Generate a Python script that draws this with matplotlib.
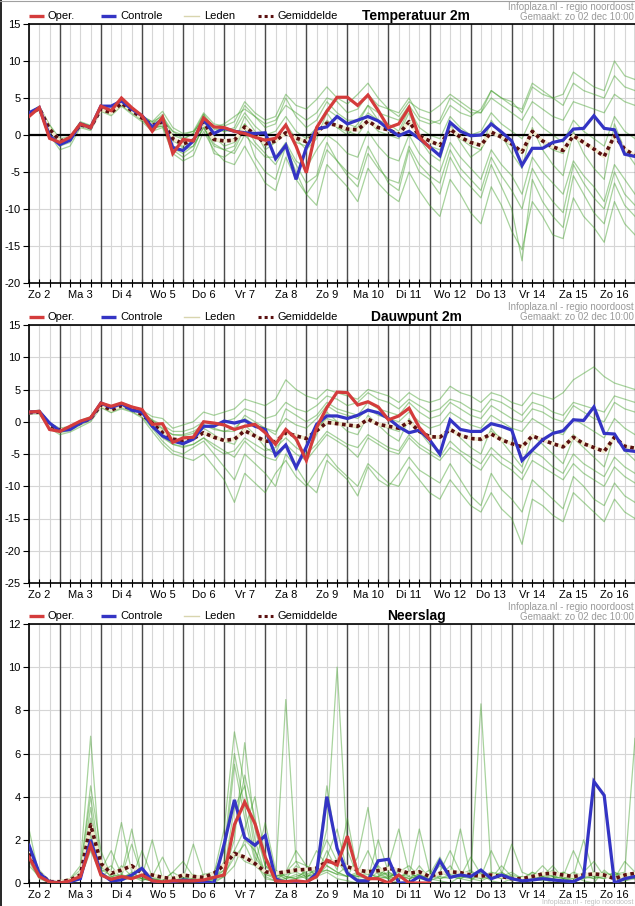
import numpy as np
import matplotlib
matplotlib.use('Agg')
import matplotlib.pyplot as plt
from matplotlib.lines import Line2D

plt.rcParams['font.family'] = ['Liberation Sans', 'DejaVu Sans']

W, H = 635, 906

# forecast steps, every 6 hours from Zo 2 06:00
STEP_HOURS = list(range(6, 366, 6))
DAY_LABELS = ['Zo 2', 'Ma 3', 'Di 4', 'Wo 5', 'Do 6', 'Vr 7', 'Za 8', 'Zo 9',
              'Ma 10', 'Di 11', 'Wo 12', 'Do 13', 'Vr 14', 'Za 15', 'Zo 16']

# ---- Temperatuur 2m ----
TEMP_OPER = [2.5, 3.7, -0.45, -1.0, -0.3, 1.5, 1.0, 3.9, 3.3, 5.0, 3.7, 2.6,
             0.5, 2.4, -2.5, -0.6, -0.8, 2.3, 1.1, 1.0, 0.5, 0.2, -0.3, -0.7,
             -0.45, 1.35, -1.5, -5.1, 1.0, 3.2, 5.1, 5.1, 4.0, 5.4, 3.3, 1.0,
             1.5, 3.7, -0.3, -1.7]
TEMP_CTRL = [3.0, 3.7, -0.1, -1.3, -0.7, 1.5, 1.0, 3.9, 3.9, 4.6, 3.5, 2.6,
             1.1, 2.1, -1.7, -2.1, -0.8, 2.1, 0.2, 0.9, 0.5, 0.3, 0.2, 0.3,
             -3.2, -1.4, -6.0, -1.7, 0.8, 1.1, 2.5, 1.5, 2.0, 2.5, 1.9, 0.8,
             -0.1, 0.5, -0.5, -1.6, -2.8, 1.7, 0.5, -0.1, 0.0, 1.5, 0.4, -0.8,
             -4.1, -1.8, -1.8, -1.0, -0.7, 0.8, 0.9, 2.6, 0.9, 0.7, -2.6, -2.9]
TEMP_MEAN = [2.8, 3.6, 0.8, -0.8, -0.5, 1.4, 1.0, 3.5, 3.0, 4.3, 3.3, 2.3,
             1.3, 1.8, -0.5, -1.2, -0.7, 1.8, -0.6, -0.8, -0.7, 1.1, 0.1, -1.2,
             -0.8, 0.3, -0.4, -0.9, 0.3, 1.6, 1.3, 0.8, 0.7, 1.9, 1.0, 0.7,
             0.1, 1.8, -0.1, -0.8, -1.4, 0.8, -0.3, -1.0, -1.4, 0.4, -0.3, -1.2,
             -2.3, 0.5, -0.8, -1.6, -2.1, -0.1, -1.0, -1.9, -2.9, -0.1, -1.9, -2.8]
TEMP_MEMBERS = [
    [2.9, 3.8, 0.5, -1.2, -0.8, 1.6, 1.2, 3.8, 3.4, 4.8, 3.6, 2.5,
     1.8, 3.2, 1.0, 0.2, 0.5, 3.0, 1.5, 1.2, 1.8, 4.5, 3.0, 2.0,
     2.5, 5.5, 4.0, 3.5, 4.8, 6.5, 5.0, 4.2, 5.5, 7.0, 5.0, 3.5,
     3.0, 5.0, 2.5, 2.0, 1.5, 4.0, 3.0, 2.5, 3.5, 6.0, 5.0, 4.5,
     3.0, 6.5, 5.5, 5.0, 4.0, 7.0, 6.0, 5.5, 5.0, 8.0, 6.5, 6.0],
    [2.6, 3.4, 0.0, -2.0, -1.5, 1.0, 0.6, 3.2, 2.6, 3.9, 2.8, 1.8,
     0.5, 1.0, -2.5, -3.5, -2.8, 0.5, -2.0, -3.5, -4.0, -1.5, -4.0, -6.5,
     -7.5, -3.0, -6.0, -8.0, -9.5, -4.0, -5.5, -7.0, -9.0, -4.5, -6.5, -8.0,
     -9.0, -5.0, -7.5, -9.5, -11.0, -6.0, -8.0, -10.5, -12.0, -7.0, -9.5, -13.0,
     -15.5, -9.0, -11.0, -13.5, -14.0, -8.5, -11.0, -12.5, -14.5, -9.0, -12.0, -13.5],
    [2.8, 3.6, 0.8, -0.8, -0.3, 1.6, 1.2, 3.6, 3.2, 4.5, 3.4, 2.4,
     1.6, 2.2, 0.0, -0.6, 0.2, 2.5, 0.8, 0.5, 0.6, 3.0, 1.2, 0.0,
     0.5, 2.5, 0.5, -0.5, 1.0, 3.5, 2.5, 1.5, 1.0, 3.0, 2.0, 1.5,
     0.5, 3.5, 1.0, 0.0, -0.5, 2.5, 1.0, 0.0, 0.5, 3.0, 1.5, 0.5,
     -0.5, 2.5, 1.0, 0.0, -1.0, 2.0, 0.5, -0.5, -1.5, 2.5, 0.5, -0.5],
    [2.7, 3.4, 1.0, -1.0, -0.7, 1.2, 0.8, 3.3, 2.8, 4.0, 3.0, 2.0,
     1.0, 1.2, -1.5, -2.0, -1.5, 1.0, -1.5, -2.0, -2.5, 0.0, -1.5, -3.0,
     -3.0, -1.0, -3.5, -4.5, -2.0, 0.0, -1.0, -2.5, -3.0, 0.5, -1.5, -3.0,
     -3.5, 0.0, -2.5, -4.0, -5.0, -1.0, -3.0, -4.5, -6.0, -2.0, -4.0, -5.5,
     -8.0, -3.0, -5.0, -6.5, -8.0, -3.5, -5.5, -7.0, -9.0, -4.0, -6.0, -8.0],
    [3.0, 3.9, 1.4, -0.5, -0.2, 1.8, 1.3, 3.9, 3.3, 4.7, 3.7, 2.6,
     1.5, 2.8, -0.5, -1.8, -1.0, 2.8, -0.2, -1.5, -1.0, 2.5, 0.5, -2.0,
     -1.0, 1.5, -0.5, -2.0, -0.5, 3.0, 1.0, 0.0, 1.5, 4.0, 2.0, 0.5,
     0.0, 3.0, -0.5, -2.5, -3.5, 1.5, -1.0, -3.0, -2.0, 2.0, 0.0, -2.5,
     -4.5, 1.0, -2.0, -4.0, -5.5, 0.5, -2.5, -4.5, -6.0, 1.5, -2.0, -4.0],
    [2.9, 3.7, 1.1, -0.6, -0.4, 1.5, 1.1, 3.6, 3.1, 4.4, 3.5, 2.4,
     1.4, 2.0, 0.5, 0.0, 0.5, 2.0, 1.0, 1.5, 2.5, 3.5, 2.5, 1.5,
     2.0, 4.0, 3.0, 2.0, 3.0, 5.0, 4.5, 3.0, 3.5, 5.5, 4.0, 3.5,
     2.5, 4.5, 3.5, 3.0, 4.0, 5.5, 4.5, 3.5, 3.0, 5.0, 4.0, 3.0,
     2.0, 4.5, 3.5, 2.5, 2.0, 4.5, 4.0, 3.5, 3.0, 5.5, 4.5, 4.0],
    [2.6, 3.5, 0.6, -1.5, -1.0, 1.2, 0.8, 3.4, 2.9, 4.1, 3.1, 2.1,
     0.8, 1.5, -2.0, -3.0, -2.0, 1.5, -2.5, -3.0, -2.0, 1.0, -3.0, -5.0,
     -6.0, -1.5, -4.0, -6.5, -5.5, -1.0, -3.5, -5.0, -6.0, -1.5, -4.0, -6.5,
     -7.5, -2.0, -5.0, -6.0, -8.0, -3.0, -5.5, -7.0, -8.5, -4.0, -7.0, -10.0,
     -17.0, -6.0, -9.0, -11.0, -12.5, -5.5, -8.0, -10.5, -12.0, -6.5, -9.5, -11.0],
    [2.8, 3.5, 1.0, -0.9, -0.6, 1.3, 0.9, 3.5, 3.0, 4.2, 3.2, 2.2,
     1.2, 1.6, -0.8, -1.5, -0.8, 1.5, -0.8, -1.0, -0.5, 1.5, 0.0, -1.5,
     -1.0, 0.5, -1.0, -1.5, 0.0, 2.0, 1.0, 0.5, 0.0, 2.0, 0.5, 0.0,
     -0.5, 2.0, -0.5, -1.5, -2.0, 1.0, -0.5, -1.5, -2.0, 0.5, -0.5, -1.5,
     -2.5, 0.5, -1.0, -2.0, -2.5, 0.0, -1.0, -2.0, -3.0, 0.0, -2.0, -3.0],
    [3.0, 3.8, 1.3, -0.7, -0.3, 1.7, 1.2, 3.7, 3.2, 4.6, 3.5, 2.6,
     1.8, 2.5, 0.5, -0.5, 0.2, 2.8, 1.0, 0.5, 1.0, 4.0, 2.5, 1.0,
     1.5, 5.0, 2.5, 1.0, 2.0, 4.5, 3.0, 2.0, 2.0, 4.0, 3.0, 2.5,
     2.0, 4.0, 2.0, 1.5, 2.0, 5.0, 4.0, 3.0, 3.0, 6.0, 5.0, 4.0,
     3.5, 7.0, 6.0, 5.0, 5.5, 8.5, 7.5, 6.5, 6.0, 10.0, 8.0, 7.5],
    [2.7, 3.6, 0.7, -1.1, -0.8, 1.3, 0.9, 3.4, 2.9, 4.1, 3.1, 2.1,
     0.9, 1.2, -1.8, -2.5, -1.5, 1.0, -1.2, -2.0, -1.5, 1.5, -1.0, -2.5,
     -4.0, -1.5, -5.0, -8.0, -6.0, -2.0, -3.5, -5.5, -7.0, -2.5, -4.5, -6.0,
     -6.5, -1.5, -4.0, -5.5, -6.5, -2.0, -4.5, -6.0, -7.5, -3.0, -5.5, -7.5,
     -10.0, -4.5, -7.0, -9.0, -10.5, -4.0, -6.5, -8.5, -10.0, -5.0, -8.0, -9.5],
]

# ---- Dauwpunt 2m ----
DEW_OPER = [1.5, 1.6, -1.2, -1.5, -0.7, 0.1, 0.6, 2.9, 2.4, 2.9, 2.3, 1.9,
            -0.4, -0.3, -3.2, -2.5, -2.4, 0.0, -0.2, -0.5, -1.2, -0.7, -0.4, -1.7,
            -3.5, -1.2, -2.6, -6.0, -0.9, 2.2, 4.6, 4.5, 2.6, 3.1, 2.3, 0.3,
            0.9, 2.1, -0.9, -2.7]
DEW_CTRL = [1.5, 1.6, -0.2, -1.4, -1.2, -0.2, 0.5, 2.9, 2.2, 2.8, 1.8, 1.5,
            -0.7, -2.2, -3.0, -3.4, -2.7, -0.7, -0.7, 0.1, -0.2, 0.2, -0.7, -1.2,
            -5.2, -3.6, -7.1, -3.9, -0.4, 0.9, 0.9, 0.5, 1.0, 1.8, 1.4, 0.5,
            -0.8, -1.7, -1.3, -2.8, -5.0, 0.3, -1.2, -1.5, -1.5, -0.3, -0.7, -1.3,
            -6.0, -4.4, -2.8, -1.8, -1.4, 0.3, 0.2, 2.3, -1.8, -1.9, -4.4, -4.6]
DEW_MEAN = [1.4, 1.5, -0.5, -1.3, -1.0, -0.2, 0.5, 2.6, 1.8, 2.5, 2.0, 1.1,
            -0.2, -1.7, -2.7, -2.9, -2.6, -1.7, -2.4, -2.9, -2.7, -1.4, -2.2, -3.0,
            -3.1, -1.7, -2.2, -2.6, -1.4, -0.1, -0.3, -0.5, -0.7, 0.4, -0.4, -0.7,
            -1.0, 0.0, -1.5, -2.3, -2.4, -1.2, -2.1, -2.6, -2.7, -1.9, -2.8, -3.4,
            -3.9, -2.2, -2.8, -3.4, -3.9, -2.4, -3.4, -4.0, -4.6, -2.4, -3.8, -4.1]
DEW_MEMBERS = [
    [1.6, 1.8, -0.2, -1.0, -0.7, 0.2, 0.8, 3.0, 2.4, 3.0, 2.4, 1.8,
     0.8, 0.5, -1.0, -0.5, 0.0, 1.5, 1.0, 1.5, 2.0, 3.5, 3.0, 2.5,
     3.5, 6.5, 5.0, 4.0, 3.5, 5.0, 4.5, 4.0, 3.5, 5.0, 4.5, 4.0,
     3.0, 4.5, 3.5, 3.0, 3.5, 5.5, 4.5, 4.0, 3.0, 4.5, 4.0, 3.0,
     2.5, 4.5, 4.0, 3.5, 4.5, 6.5, 7.5, 8.5, 7.0, 6.0, 5.5, 5.0],
    [1.2, 1.2, -1.0, -2.0, -1.6, -0.8, 0.0, 2.2, 1.4, 2.0, 1.5, 0.6,
     -1.5, -3.5, -5.0, -5.5, -6.0, -5.0, -7.0, -9.0, -12.5, -8.0, -9.5, -11.0,
     -8.0, -6.0, -8.5, -10.0, -7.5, -5.0, -7.0, -8.5, -10.0, -6.5, -8.0, -9.5,
     -10.0, -7.0, -9.0, -11.0, -12.0, -9.0, -11.0, -13.0, -14.0, -11.0, -13.5, -15.0,
     -19.0, -12.0, -13.0, -14.5, -15.5, -11.0, -12.5, -14.0, -15.5, -12.0, -14.0, -15.0],
    [1.5, 1.6, -0.4, -1.2, -0.9, 0.0, 0.7, 2.8, 2.0, 2.7, 2.2, 1.4,
     0.2, -1.0, -2.0, -2.2, -1.8, -0.5, -1.2, -1.5, -1.0, 0.5, -0.5, -1.0,
     -1.5, 0.5, -0.5, -1.0, 0.5, 2.5, 1.5, 1.0, 0.5, 2.0, 1.0, 0.5,
     0.0, 1.5, 0.0, -1.0, -0.5, 1.5, 0.5, -0.5, -1.0, 1.0, 0.0, -1.0,
     -1.5, 0.5, -0.5, -1.5, -2.0, 0.5, -0.5, -1.5, -2.5, 0.5, -1.0, -2.0],
    [1.3, 1.4, -0.6, -1.5, -1.2, -0.4, 0.3, 2.4, 1.6, 2.3, 1.8, 0.9,
     -0.5, -2.5, -3.5, -4.0, -3.5, -2.5, -3.5, -4.5, -5.5, -3.0, -4.5, -5.5,
     -6.0, -3.5, -5.0, -6.0, -4.0, -2.0, -3.0, -4.0, -5.5, -2.5, -3.5, -4.5,
     -5.0, -2.5, -4.0, -5.0, -6.0, -4.0, -5.0, -6.5, -7.5, -5.0, -6.5, -7.5,
     -9.0, -6.0, -7.0, -8.0, -9.0, -6.5, -8.0, -9.0, -10.0, -7.0, -8.5, -9.5],
    [1.4, 1.6, -0.5, -1.4, -1.1, -0.1, 0.6, 2.7, 1.9, 2.6, 2.1, 1.2,
     -0.2, -1.5, -3.0, -3.5, -2.5, -1.0, -2.0, -3.0, -3.5, -0.5, -2.0, -4.0,
     -5.0, -1.0, -3.0, -5.5, -2.0, 1.5, 0.0, -1.5, -2.0, 1.0, -0.5, -2.0,
     -3.0, 0.5, -1.5, -3.5, -4.5, -1.0, -2.5, -4.0, -5.0, -1.0, -3.0, -5.0,
     -7.0, -2.0, -3.5, -5.0, -6.5, -2.5, -4.0, -5.5, -7.0, -2.0, -4.5, -6.0],
    [1.5, 1.7, -0.3, -1.1, -0.8, 0.1, 0.7, 2.8, 2.1, 2.8, 2.3, 1.5,
     0.3, -0.5, -1.5, -1.5, -1.0, 0.0, -0.5, 0.0, 0.5, 2.0, 1.5, 0.5,
     1.0, 3.0, 2.0, 1.5, 2.5, 4.0, 3.5, 2.5, 3.0, 4.5, 3.5, 3.0,
     2.0, 3.5, 2.5, 1.5, 2.0, 3.5, 3.0, 2.0, 1.5, 3.5, 3.0, 2.0,
     1.0, 3.0, 2.5, 1.5, 1.0, 3.0, 2.5, 2.0, 1.5, 4.0, 3.5, 3.0],
    [1.3, 1.3, -0.8, -1.7, -1.4, -0.5, 0.2, 2.3, 1.5, 2.2, 1.6, 0.8,
     -1.0, -3.0, -4.5, -5.0, -4.0, -3.0, -5.0, -7.0, -9.0, -5.0, -6.5, -8.0,
     -10.0, -5.0, -7.0, -9.5, -11.0, -6.0, -7.5, -9.0, -11.5, -7.0, -9.0, -10.0,
     -8.0, -5.5, -7.5, -8.5, -9.5, -6.5, -9.0, -11.5, -13.0, -8.0, -10.5, -12.0,
     -14.0, -9.0, -10.5, -12.0, -13.5, -8.5, -10.0, -12.0, -13.0, -9.5, -11.5, -12.5],
    [1.4, 1.5, -0.5, -1.3, -1.0, -0.2, 0.5, 2.6, 1.8, 2.5, 2.0, 1.1,
     -0.2, -1.7, -2.7, -2.9, -2.6, -1.7, -2.4, -2.9, -2.7, -1.4, -2.2, -3.0,
     -3.0, -1.5, -2.0, -2.5, -1.0, 0.5, 0.0, -0.5, -1.0, 0.5, -0.5, -1.0,
     -1.5, 0.0, -1.5, -2.5, -2.5, -1.0, -2.0, -2.5, -3.0, -1.5, -2.5, -3.5,
     -4.0, -2.0, -3.0, -3.5, -4.0, -2.0, -3.5, -4.0, -4.5, -2.5, -4.0, -4.5],
    [1.5, 1.7, -0.4, -1.2, -0.9, 0.0, 0.6, 2.7, 2.0, 2.7, 2.2, 1.3,
     0.2, -1.2, -2.0, -2.0, -1.5, -0.5, -1.0, -1.5, -1.5, 1.0, 0.0, -1.0,
     -2.0, 2.0, 1.0, 0.0, 1.0, 3.0, 2.0, 1.5, 1.0, 3.0, 2.0, 1.5,
     1.0, 3.0, 1.5, 0.5, 1.0, 3.0, 2.0, 1.0, 0.5, 2.5, 1.5, 0.5,
     0.0, 2.0, 1.5, 0.5, 0.0, 2.5, 1.5, 0.5, 0.0, 3.0, 2.0, 1.5],
    [1.3, 1.4, -0.7, -1.5, -1.2, -0.3, 0.4, 2.5, 1.7, 2.4, 1.9, 1.0,
     -0.6, -2.2, -3.5, -3.8, -3.5, -2.5, -4.0, -5.0, -4.5, -2.5, -3.5, -4.5,
     -4.0, -2.5, -4.0, -5.0, -3.5, -1.5, -2.5, -3.5, -4.0, -2.0, -3.0, -4.0,
     -4.5, -2.0, -3.5, -4.5, -5.5, -3.0, -4.5, -5.5, -6.5, -4.0, -5.5, -6.5,
     -8.0, -4.5, -5.5, -7.0, -8.0, -5.0, -6.5, -7.5, -8.5, -5.5, -7.0, -8.0],
]

# ---- Neerslag ----
RAIN_OPER = [1.2, 0.3, 0.05, 0.0, 0.1, 0.3, 1.75, 0.37, 0.17, 0.3, 0.2, 0.37,
             0.1, 0.05, 0.1, 0.1, 0.1, 0.14, 0.26, 0.37, 2.7, 3.75, 2.75, 1.2,
             0.1, 0.06, 0.1, 0.05, 0.3, 1.06, 0.83, 2.17, 0.45, 0.2, 0.2, 0.0,
             0.37, 0.0, 0.0, 0.0]
RAIN_CTRL = [1.75, 0.45, 0.06, 0.0, 0.06, 0.2, 2.0, 0.45, 0.1, 0.14, 0.37, 0.68,
             0.1, 0.0, 0.05, 0.14, 0.1, 0.06, 0.0, 1.8, 3.85, 2.1, 1.75, 2.2,
             0.2, 0.0, 0.0, 0.0, 0.45, 4.0, 1.6, 0.45, 0.1, 0.1, 1.03, 1.1,
             0.0, 0.0, 0.3, 0.1, 1.03, 0.26, 0.37, 0.3, 0.6, 0.2, 0.37, 0.2,
             0.1, 0.14, 0.2, 0.14, 0.1, 0.06, 0.3, 4.7, 4.06, 0.0, 0.2, 0.3]
RAIN_MEAN = [1.37, 0.45, 0.06, 0.06, 0.14, 0.37, 2.7, 0.9, 0.45, 0.6, 0.8, 0.45,
             0.37, 0.26, 0.2, 0.37, 0.3, 0.26, 0.45, 0.83, 1.37, 1.2, 0.9, 0.52,
             0.45, 0.52, 0.6, 0.63, 0.68, 1.0, 0.98, 0.75, 0.6, 0.52, 0.57, 0.68,
             0.6, 0.45, 0.52, 0.3, 0.45, 0.52, 0.48, 0.37, 0.32, 0.37, 0.3, 0.2,
             0.2, 0.3, 0.42, 0.45, 0.37, 0.3, 0.37, 0.42, 0.37, 0.2, 0.37, 0.45]
RAIN_MEMBERS = [
    [1.5, 0.4, 0.0, 0.0, 0.1, 0.5, 4.5, 1.5, 0.3, 0.2, 0.5, 0.2,
     0.1, 0.0, 0.0, 0.3, 0.1, 0.0, 0.2, 1.0, 5.5, 3.0, 1.0, 0.2,
     0.1, 0.5, 1.5, 0.8, 0.3, 0.5, 0.2, 0.1, 0.0, 0.2, 0.5, 0.2,
     0.0, 0.1, 0.8, 0.2, 0.1, 0.0, 0.3, 1.2, 0.4, 0.1, 0.0, 0.2,
     0.1, 0.5, 0.2, 0.0, 0.1, 0.3, 0.1, 0.0, 0.6, 0.2, 0.1, 0.3],
    [1.2, 0.5, 0.1, 0.0, 0.1, 0.3, 3.0, 0.6, 1.5, 0.4, 2.5, 0.3,
     0.2, 0.1, 0.5, 0.2, 1.8, 0.3, 0.1, 0.5, 2.0, 6.5, 2.5, 0.8,
     0.3, 0.1, 0.2, 0.3, 0.5, 2.5, 10.0, 1.5, 0.3, 0.2, 0.8, 0.3,
     0.2, 0.5, 0.2, 0.1, 0.3, 0.8, 0.2, 0.1, 0.5, 0.2, 0.3, 0.1,
     0.2, 0.1, 0.3, 0.8, 0.2, 0.1, 0.2, 0.5, 0.3, 0.2, 0.1, 0.2],
    [2.5, 0.3, 0.0, 0.1, 0.2, 0.8, 6.8, 0.5, 0.2, 0.8, 0.3, 0.1,
     0.3, 1.2, 0.2, 0.1, 0.4, 0.2, 0.0, 0.3, 1.5, 2.5, 4.0, 1.2,
     0.5, 0.2, 0.8, 0.4, 0.2, 1.2, 2.5, 0.5, 0.2, 0.1, 0.3, 0.8,
     2.5, 0.5, 0.2, 0.3, 0.2, 0.3, 0.2, 0.5, 0.3, 0.2, 0.8, 0.3,
     0.1, 0.2, 0.5, 0.3, 0.5, 0.2, 0.3, 0.5, 0.4, 0.2, 1.0, 0.5],
    [1.0, 0.2, 0.0, 0.0, 0.1, 0.2, 2.0, 0.3, 0.6, 2.8, 0.5, 0.2,
     0.1, 0.3, 0.0, 0.2, 0.1, 0.3, 0.2, 0.6, 3.5, 4.5, 2.0, 0.4,
     0.2, 8.5, 1.0, 0.2, 0.3, 0.8, 0.5, 0.3, 0.5, 1.5, 0.4, 0.2,
     0.3, 0.2, 0.4, 0.2, 0.5, 1.5, 0.5, 0.2, 0.1, 0.3, 0.5, 0.2,
     0.3, 0.2, 0.1, 0.2, 0.3, 0.2, 0.4, 0.2, 0.3, 0.5, 0.2, 0.4],
    [1.4, 0.6, 0.1, 0.0, 0.1, 0.4, 2.8, 1.0, 0.2, 0.3, 0.4, 0.3,
     2.0, 0.2, 0.1, 0.0, 0.2, 0.4, 0.5, 1.5, 6.0, 3.5, 1.2, 0.5,
     0.4, 0.2, 0.3, 0.5, 1.5, 0.8, 0.5, 0.3, 1.2, 3.5, 0.6, 0.3,
     0.5, 0.8, 0.3, 0.2, 0.5, 0.3, 0.2, 0.4, 0.3, 1.5, 0.5, 0.2,
     0.3, 0.2, 0.3, 0.2, 0.5, 0.3, 0.2, 0.3, 0.2, 0.5, 0.3, 0.2],
    [0.8, 0.3, 0.0, 0.0, 0.0, 0.2, 1.5, 0.4, 0.2, 0.1, 0.3, 0.2,
     0.1, 0.0, 0.3, 0.1, 0.2, 0.1, 0.2, 0.8, 1.5, 1.0, 0.8, 2.8,
     0.6, 0.3, 0.2, 0.6, 0.4, 1.5, 0.6, 3.0, 0.4, 0.2, 0.3, 0.5,
     0.2, 0.3, 2.5, 0.5, 0.3, 0.2, 0.4, 0.3, 8.3, 0.5, 0.2, 0.3,
     0.2, 0.5, 0.3, 0.2, 0.1, 0.2, 0.5, 1.0, 0.3, 0.4, 0.5, 6.7],
    [1.3, 0.5, 0.0, 0.0, 0.2, 0.6, 4.0, 0.8, 0.3, 0.4, 0.2, 1.5,
     0.3, 0.2, 0.1, 0.3, 0.2, 0.1, 0.4, 2.5, 7.0, 4.5, 1.5, 0.3,
     0.1, 0.2, 0.4, 0.2, 0.8, 2.0, 1.0, 0.4, 0.3, 0.5, 0.2, 0.3,
     0.4, 0.2, 0.3, 0.6, 0.2, 0.4, 2.5, 0.3, 0.2, 0.4, 0.3, 0.5,
     0.2, 0.3, 0.8, 0.3, 0.2, 0.5, 0.3, 0.2, 0.5, 0.3, 0.2, 0.3],
    [1.6, 0.4, 0.1, 0.1, 0.1, 0.3, 3.5, 0.5, 0.8, 0.2, 0.2, 0.4,
     0.2, 0.1, 0.5, 1.0, 0.3, 0.2, 0.1, 0.3, 0.8, 2.0, 1.5, 0.5,
     0.3, 0.5, 1.0, 0.8, 0.5, 0.6, 0.4, 0.8, 0.5, 0.2, 2.0, 0.5,
     0.3, 0.5, 0.4, 0.3, 0.8, 0.4, 0.3, 0.2, 0.3, 0.5, 0.4, 1.8,
     0.5, 0.3, 0.2, 0.4, 0.3, 1.5, 0.5, 0.3, 0.2, 0.4, 0.3, 0.2],
    [1.1, 0.4, 0.0, 0.1, 0.1, 0.3, 2.2, 0.4, 0.2, 0.3, 1.8, 0.3,
     0.1, 0.2, 0.1, 0.2, 0.3, 0.2, 0.3, 0.6, 2.5, 5.0, 3.0, 0.8,
     0.5, 0.3, 0.2, 0.4, 0.6, 4.5, 1.5, 0.4, 0.3, 0.4, 0.3, 0.2,
     0.6, 0.3, 0.2, 0.4, 1.2, 0.3, 0.4, 0.6, 0.2, 0.3, 0.2, 0.4,
     0.2, 0.4, 0.3, 0.6, 0.2, 0.3, 2.0, 0.4, 0.3, 0.2, 0.4, 0.3],
    [1.3, 0.3, 0.0, 0.0, 0.1, 0.4, 2.5, 0.6, 0.4, 0.3, 0.3, 0.2,
     0.2, 0.3, 0.2, 0.1, 0.2, 0.3, 0.2, 0.4, 1.2, 1.8, 0.8, 0.4,
     0.3, 0.4, 0.5, 0.3, 0.4, 0.6, 0.4, 0.3, 0.4, 0.6, 0.5, 0.4,
     0.3, 0.4, 0.3, 0.3, 0.4, 0.5, 0.3, 0.3, 0.4, 0.3, 0.3, 0.2,
     0.2, 0.3, 0.4, 0.3, 0.2, 0.3, 0.3, 0.4, 0.3, 0.3, 0.4, 0.3],
]

RED = '#d43c3c'
BLUE = '#3434c4'
MEAN_COL = '#5a1010'
MEMBER_COL = '#3e9e26'
GRID_LIGHT = '#d6d6d6'
GRID_DARK = '#4a4a4a'
HEADER_GREY = '#9a9a9a'


def fx(x):
    return x / W


def fy(y):
    return 1 - y / H


def fig_line(fig, xs, ys, **kw):
    fig.add_artist(Line2D([fx(v) for v in xs], [fy(v) for v in ys],
                          transform=fig.transFigure, **kw))


def draw_header(fig, top, title):
    ly = top - 8
    fig_line(fig, [29, 44], [ly, ly], color=RED, lw=2.4, solid_capstyle='butt')
    fig.text(fx(48), fy(ly), 'Oper.', fontsize=8, va='center')
    fig_line(fig, [101, 116], [ly, ly], color=BLUE, lw=2.4, solid_capstyle='butt')
    fig.text(fx(120), fy(ly), 'Controle', fontsize=8, va='center')
    fig_line(fig, [184, 199], [ly, ly], color='#d8d5ae', lw=1.0)
    fig.text(fx(204), fy(ly), 'Leden', fontsize=8, va='center')
    fig_line(fig, [258, 273], [ly, ly], color=MEAN_COL, lw=2.2,
             linestyle=(0, (1, 1)), dash_capstyle='butt')
    fig.text(fx(277), fy(ly), 'Gemiddelde', fontsize=8, va='center')
    fig.text(fx(416), fy(ly), title, fontsize=10, fontweight='bold',
             ha='center', va='center')
    fig.text(fx(634), fy(top - 17.5), 'Infoplaza.nl - regio noordoost',
             fontsize=7, color=HEADER_GREY, ha='right', va='center')
    fig.text(fx(634), fy(top - 7.5), 'Gemaakt: zo 02 dec 10:00',
             fontsize=7, color=HEADER_GREY, ha='right', va='center')


def draw_panel(fig, top, bottom, title, ylim, yticks, members, oper, ctrl, mean,
               zero_line=False):
    ax = fig.add_axes([fx(29), fy(bottom), fx(635) - fx(29), (bottom - top) / H])
    days = np.array(STEP_HOURS) / 24.0

    ax.set_xlim(days[0], days[-1])
    ax.set_ylim(*ylim)
    ax.set_xticks(days)
    ax.set_xticklabels([])
    ax.set_yticks(yticks)
    ax.set_yticklabels([str(v) for v in yticks])
    ax.tick_params(axis='x', direction='inout', length=6, width=0.8, color='black')
    ax.tick_params(axis='y', direction='out', length=4, width=0.8, labelsize=8, pad=2)
    ax.grid(True, color=GRID_LIGHT, lw=0.8, zorder=0)
    ax.set_axisbelow(True)
    for d in range(1, 16):
        ax.axvline(d, color=GRID_DARK, lw=1.0, zorder=1)
    for i, lab in enumerate(DAY_LABELS):
        ax.annotate(lab, xy=(i + 0.5, 0), xycoords=('data', 'axes fraction'),
                    xytext=(0, -9), textcoords='offset points',
                    ha='center', va='center', fontsize=8, annotation_clip=False)

    for side in ['top', 'bottom', 'left']:
        ax.spines[side].set_color('black')
        ax.spines[side].set_linewidth(1.2)
    ax.spines['right'].set_visible(False)

    for m in members:
        ax.plot(days, m, color=MEMBER_COL, lw=0.9, alpha=0.45, zorder=2)
    if zero_line:
        ax.axhline(0, color='black', lw=1.6, zorder=3)
    ax.plot(days, mean, color='#f2ebcf', lw=2.6, zorder=4)
    ax.plot(days, mean, color=MEAN_COL, lw=2.6, linestyle=(0, (1, 1)),
            dash_capstyle='butt', zorder=5)
    ax.plot(days[:len(ctrl)], ctrl, color=BLUE, lw=2.3, zorder=6,
            solid_joinstyle='miter')
    ax.plot(days[:len(oper)], oper, color=RED, lw=2.3, zorder=7,
            solid_joinstyle='miter')

    draw_header(fig, top, title)
    return ax


fig = plt.figure(figsize=(W / 100, H / 100), dpi=100)
fig.patch.set_facecolor('white')

draw_panel(fig, 24, 283, 'Temperatuur 2m', (-20, 15), list(range(-20, 16, 5)),
           TEMP_MEMBERS, TEMP_OPER, TEMP_CTRL, TEMP_MEAN, zero_line=True)
draw_panel(fig, 325, 583, 'Dauwpunt 2m', (-25, 15), list(range(-25, 16, 5)),
           DEW_MEMBERS, DEW_OPER, DEW_CTRL, DEW_MEAN)
draw_panel(fig, 624, 883, 'Neerslag', (0, 12), list(range(0, 13, 2)),
           RAIN_MEMBERS, RAIN_OPER, RAIN_CTRL, RAIN_MEAN)

# start of the next block at the bottom edge
fig.text(fx(634), fy(906), 'Infoplaza.nl - regio noordoost',
         fontsize=5, color='#c0c0c0', ha='right', va='bottom')

# outer frame
fig_line(fig, [0.6, 0.6], [0, H], color='black', lw=1.2)
fig_line(fig, [0, W], [0.5, 0.5], color='#a0a0a0', lw=0.8)

fig.savefig('out.png', dpi=100, facecolor='white')
